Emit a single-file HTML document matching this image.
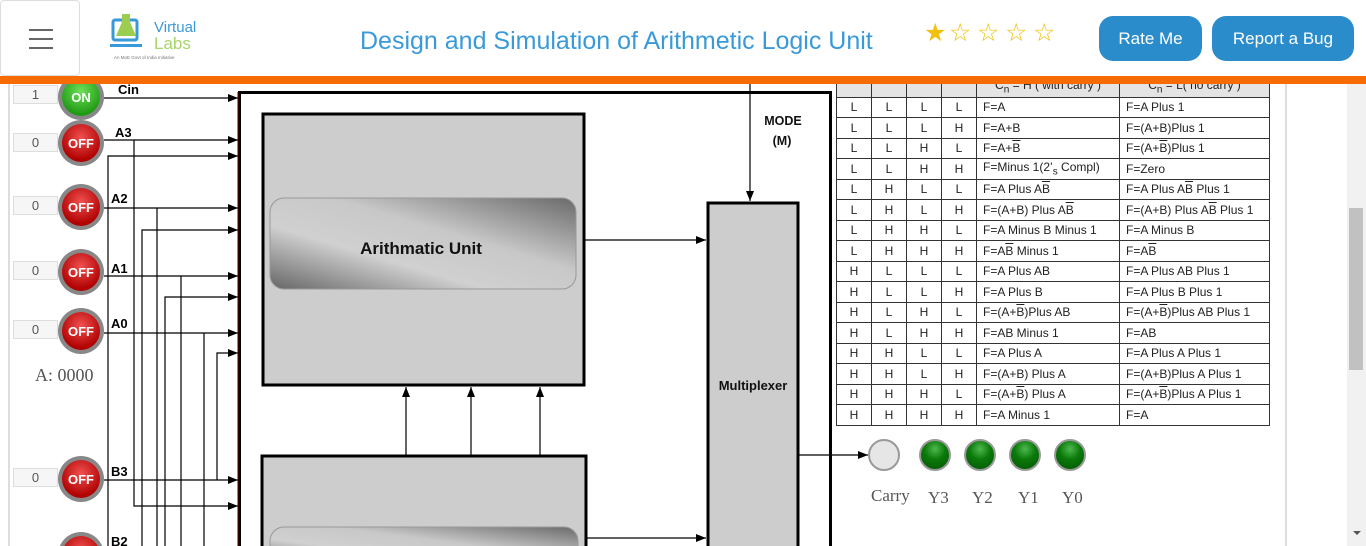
<!DOCTYPE html>
<html><head><meta charset="utf-8"><style>
*{margin:0;padding:0;box-sizing:border-box}
html,body{width:1366px;height:546px;overflow:hidden}
body{background:#fff;font-family:"Liberation Sans",sans-serif;position:relative}
.hdr{position:absolute;left:0;top:0;width:1366px;height:76px;background:#fff}
.bar{position:absolute;left:0;top:76px;width:1366px;height:8px;background:#f76b05}
.ham{position:absolute;left:0;top:0;width:80px;height:76px;border:1px solid #ddd;border-radius:4px;background:#fff}
.ham i{position:absolute;left:28px;width:24px;height:2px;background:#666}
.title{position:absolute;left:360px;top:27px;font-size:25px;color:#3a9ad9;white-space:nowrap}
.btn{position:absolute;top:16px;height:45px;border-radius:14px;background:#2b8ccc;color:#fff;font-size:17px;text-align:center;line-height:45px}
.star{position:absolute;top:18px;font-size:25px;color:#f2c10f}
.nb{position:absolute;left:13px;width:45px;height:19px;background:#f6f6f6;border:1px solid #ddd;font-size:13px;color:#555;text-align:center;line-height:17px}
table{position:absolute;left:836px;top:76px;border-collapse:collapse;font-family:"Liberation Sans",sans-serif;font-size:12px;color:#222}
td{border:1.5px solid #333;height:20.5px;padding:0 6px;white-space:nowrap}
td.c{text-align:center;width:35px;padding:0}
tr.h td{background:#e4e4e4}
.o{text-decoration:overline}
.lab{position:absolute;top:486px;font-family:"Liberation Serif",serif;font-size:17px;color:#555}
</style></head><body>
<svg width="1366" height="546" style="position:absolute;left:0;top:0">
<defs>
<marker id="a" markerWidth="10" markerHeight="8" refX="10" refY="4" orient="auto" markerUnits="userSpaceOnUse"><path d="M0,0L10,4L0,8z" fill="#000"/></marker>
<linearGradient id="g" x1="0" y1="1" x2="1" y2="0"><stop offset="0" stop-color="#666"/><stop offset="0.35" stop-color="#d0d0d0"/><stop offset="0.6" stop-color="#c8c8c8"/><stop offset="1" stop-color="#6a6a6a"/></linearGradient>
<radialGradient id="red" cx="0.5" cy="0.35" r="0.6"><stop offset="0" stop-color="#f05050"/><stop offset="1" stop-color="#b00000"/></radialGradient>
<radialGradient id="grn" cx="0.5" cy="0.35" r="0.6"><stop offset="0" stop-color="#6fe05a"/><stop offset="1" stop-color="#1f9a14"/></radialGradient>
<radialGradient id="led" cx="0.5" cy="0.3" r="0.7"><stop offset="0" stop-color="#4fb84f"/><stop offset="0.5" stop-color="#0a7a0a"/><stop offset="1" stop-color="#055d05"/></radialGradient>
</defs>
<line x1="9" y1="84" x2="9" y2="546" stroke="#bbb"/>
<line x1="1286" y1="84" x2="1286" y2="546" stroke="#bbb"/>
<rect x="1347" y="84" width="19" height="462" fill="#f1f1f1"/>
<rect x="1349" y="208" width="14" height="162" fill="#c1c1c1"/>
<path d="M1353 531h8l-4 4z" fill="#555"/>
<rect x="239.5" y="92.5" width="591" height="460" fill="#fff" stroke="#000" stroke-width="3"/>
<line x1="238" y1="92" x2="238" y2="546" stroke="#600" stroke-width="1"/>
<rect x="263" y="114" width="321" height="271" fill="#cdcdcd" stroke="#000" stroke-width="3"/>
<rect x="270" y="198" width="306" height="91" rx="14" fill="url(#g)" stroke="#999"/>
<text x="421" y="254" font-family="Liberation Sans" font-weight="bold" font-size="17" text-anchor="middle" fill="#111">Arithmatic Unit</text>
<rect x="262" y="456" width="324" height="100" fill="#cdcdcd" stroke="#000" stroke-width="3"/>
<rect x="270" y="527" width="308" height="40" rx="14" fill="url(#g)" stroke="#999"/>
<rect x="708" y="203" width="90" height="350" fill="#cdcdcd" stroke="#000" stroke-width="3"/>
<text x="753" y="390" font-family="Liberation Sans" font-weight="bold" font-size="13" text-anchor="middle" fill="#111">Multiplexer</text>
<text x="783" y="125" font-family="Liberation Sans" font-weight="bold" font-size="12.5" text-anchor="middle" fill="#111">MODE</text>
<text x="782" y="145" font-family="Liberation Sans" font-weight="bold" font-size="12.5" text-anchor="middle" fill="#111">(M)</text>
<g stroke="#000" stroke-width="1.2" fill="none" marker-end="url(#a)">
<line x1="750" y1="84" x2="750" y2="201"/>
<line x1="585" y1="240" x2="706" y2="240"/>
<line x1="586" y1="538" x2="706" y2="538"/>
<line x1="406" y1="455" x2="406" y2="387"/>
<line x1="471" y1="455" x2="471" y2="387"/>
<line x1="540" y1="455" x2="540" y2="387"/>
<line x1="799" y1="455" x2="868" y2="455"/>
<line x1="104" y1="98" x2="238" y2="98"/>
<line x1="104" y1="140" x2="238" y2="140"/>
<path d="M108 546V156H238"/>
<line x1="104" y1="208" x2="238" y2="208"/>
<path d="M142 546V230H238"/>
<line x1="104" y1="276" x2="238" y2="276"/>
<path d="M165 546V297H238"/>
<line x1="104" y1="333" x2="238" y2="333"/>
<path d="M217 480V353H238"/>
<line x1="104" y1="480" x2="238" y2="480"/>
<path d="M134 140V506H238"/>
</g>
<g stroke="#000" stroke-width="1.2"><line x1="157" y1="208" x2="157" y2="546"/><line x1="181" y1="276" x2="181" y2="546"/><line x1="204" y1="333" x2="204" y2="546"/></g>
<g font-family="Liberation Sans" font-weight="bold" font-size="13" fill="#000">
<text x="118" y="94">Cin</text><text x="115" y="137">A3</text><text x="111" y="203">A2</text><text x="111" y="273">A1</text><text x="111" y="328">A0</text><text x="111" y="476">B3</text><text x="111" y="546">B2</text></g>
<g font-family="Liberation Sans" font-weight="bold" font-size="13" text-anchor="middle" fill="#fff">
<circle cx="81" cy="97" r="23" fill="#888"/><circle cx="81" cy="97" r="19" fill="url(#grn)"/><text x="81" y="102">ON</text>
<circle cx="81" cy="143" r="23" fill="#888"/><circle cx="81" cy="143" r="19" fill="url(#red)"/><text x="81" y="148">OFF</text>
<circle cx="81" cy="207" r="23" fill="#888"/><circle cx="81" cy="207" r="19" fill="url(#red)"/><text x="81" y="212">OFF</text>
<circle cx="81" cy="272" r="23" fill="#888"/><circle cx="81" cy="272" r="19" fill="url(#red)"/><text x="81" y="277">OFF</text>
<circle cx="81" cy="331" r="23" fill="#888"/><circle cx="81" cy="331" r="19" fill="url(#red)"/><text x="81" y="336">OFF</text>
<circle cx="81" cy="479" r="23" fill="#888"/><circle cx="81" cy="479" r="19" fill="url(#red)"/><text x="81" y="484">OFF</text>
<circle cx="81" cy="555" r="23" fill="#888"/><circle cx="81" cy="555" r="19" fill="url(#red)"/>
</g>
<circle cx="884" cy="455" r="15" fill="#e6e6e6" stroke="#999" stroke-width="2"/>
<g fill="url(#led)" stroke="#999" stroke-width="2"><circle cx="935" cy="455" r="15"/><circle cx="980" cy="455" r="15"/><circle cx="1025" cy="455" r="15"/><circle cx="1070" cy="455" r="15"/></g>
</svg>
<div class="nb" style="top:85px">1</div><div class="nb" style="top:133px">0</div><div class="nb" style="top:196px">0</div><div class="nb" style="top:261px">0</div><div class="nb" style="top:320px">0</div><div class="nb" style="top:468px">0</div>
<div style="position:absolute;left:35px;top:365px;font-family:'Liberation Serif',serif;font-size:18px;color:#555">A: 0000</div>
<span class="lab" style="left:871px">Carry</span><span class="lab" style="left:928px;top:488px">Y3</span><span class="lab" style="left:972px;top:488px">Y2</span><span class="lab" style="left:1018px;top:488px">Y1</span><span class="lab" style="left:1062px;top:488px">Y0</span>
<table>
<tr class="h"><td class="c"></td><td class="c"></td><td class="c"></td><td class="c" style="width:32px"></td><td style="width:143px;text-align:center">C<sub>n</sub> = H ( with carry )</td><td style="width:150px;text-align:center">C<sub>n</sub> = L( no carry )</td></tr>
<tr><td class="c">L</td><td class="c">L</td><td class="c">L</td><td class="c">L</td><td>F=A</td><td>F=A Plus 1</td></tr>
<tr><td class="c">L</td><td class="c">L</td><td class="c">L</td><td class="c">H</td><td>F=A+B</td><td>F=(A+B)Plus 1</td></tr>
<tr><td class="c">L</td><td class="c">L</td><td class="c">H</td><td class="c">L</td><td>F=A+<span class="o">B</span></td><td>F=(A+<span class="o">B</span>)Plus 1</td></tr>
<tr><td class="c">L</td><td class="c">L</td><td class="c">H</td><td class="c">H</td><td>F=Minus 1(2’<sub>s</sub> Compl)</td><td>F=Zero</td></tr>
<tr><td class="c">L</td><td class="c">H</td><td class="c">L</td><td class="c">L</td><td>F=A Plus A<span class="o">B</span></td><td>F=A Plus A<span class="o">B</span> Plus 1</td></tr>
<tr><td class="c">L</td><td class="c">H</td><td class="c">L</td><td class="c">H</td><td>F=(A+B) Plus A<span class="o">B</span></td><td>F=(A+B) Plus A<span class="o">B</span> Plus 1</td></tr>
<tr><td class="c">L</td><td class="c">H</td><td class="c">H</td><td class="c">L</td><td>F=A Minus B Minus 1</td><td>F=A Minus B</td></tr>
<tr><td class="c">L</td><td class="c">H</td><td class="c">H</td><td class="c">H</td><td>F=A<span class="o">B</span> Minus 1</td><td>F=A<span class="o">B</span></td></tr>
<tr><td class="c">H</td><td class="c">L</td><td class="c">L</td><td class="c">L</td><td>F=A Plus AB</td><td>F=A Plus AB Plus 1</td></tr>
<tr><td class="c">H</td><td class="c">L</td><td class="c">L</td><td class="c">H</td><td>F=A Plus B</td><td>F=A Plus B Plus 1</td></tr>
<tr><td class="c">H</td><td class="c">L</td><td class="c">H</td><td class="c">L</td><td>F=(A+<span class="o">B</span>)Plus AB</td><td>F=(A+<span class="o">B</span>)Plus AB Plus 1</td></tr>
<tr><td class="c">H</td><td class="c">L</td><td class="c">H</td><td class="c">H</td><td>F=AB Minus 1</td><td>F=AB</td></tr>
<tr><td class="c">H</td><td class="c">H</td><td class="c">L</td><td class="c">L</td><td>F=A Plus A</td><td>F=A Plus A Plus 1</td></tr>
<tr><td class="c">H</td><td class="c">H</td><td class="c">L</td><td class="c">H</td><td>F=(A+B) Plus A</td><td>F=(A+B)Plus A Plus 1</td></tr>
<tr><td class="c">H</td><td class="c">H</td><td class="c">H</td><td class="c">L</td><td>F=(A+<span class="o">B</span>) Plus A</td><td>F=(A+<span class="o">B</span>)Plus A Plus 1</td></tr>
<tr><td class="c">H</td><td class="c">H</td><td class="c">H</td><td class="c">H</td><td>F=A Minus 1</td><td>F=A</td></tr>
</table>
<div class="hdr">
<div class="ham"><i style="top:28px"></i><i style="top:37px"></i><i style="top:46px"></i></div>
<svg width="100" height="50" style="position:absolute;left:110px;top:12px">
<rect x="3" y="8" width="24" height="20" rx="2" fill="none" stroke="#3a9ad9" stroke-width="3"/>
<rect x="0" y="32" width="32" height="3" fill="#3a9ad9"/>
<path d="M12 2h8v8l6 14h-20l6-14z" fill="#9acd50"/>
<text x="44" y="20" font-family="Liberation Sans" font-size="15" fill="#3a9ad9">Virtual</text>
<text x="44" y="37" font-family="Liberation Sans" font-size="17" fill="#a8d46a">Labs</text>
<text x="4" y="47" font-family="Liberation Sans" font-size="4.5" fill="#777">An MoE Govt of India Initiative</text>
</svg>
<div class="title">Design and Simulation of Arithmetic Logic Unit</div>
<span class="star" style="left:924px">★</span><span class="star" style="left:949px">☆</span><span class="star" style="left:977px">☆</span><span class="star" style="left:1005px">☆</span><span class="star" style="left:1033px">☆</span>
<div class="btn" style="left:1099px;width:103px">Rate Me</div>
<div class="btn" style="left:1212px;width:142px">Report a Bug</div>
</div>
<div class="bar"></div>
</body></html>
